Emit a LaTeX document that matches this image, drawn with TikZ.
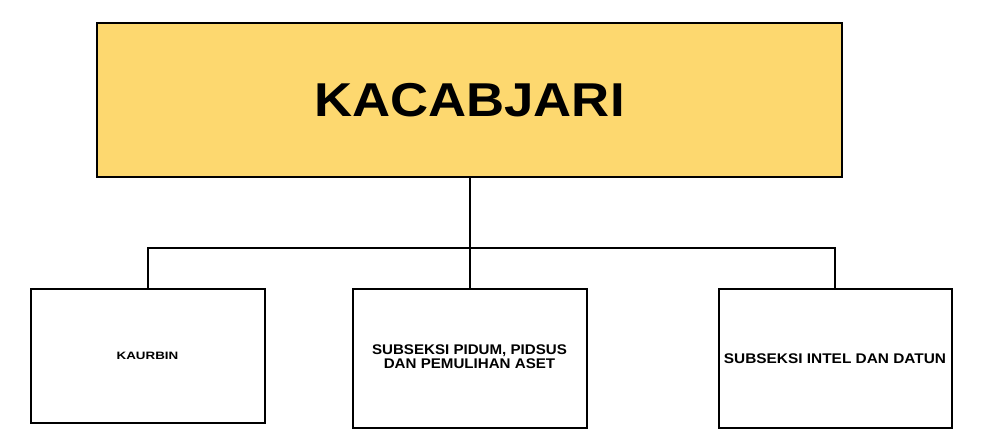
\documentclass[tikz,border=0pt]{standalone}
\usepackage{fontspec}
\setmainfont{Liberation Sans}
\usetikzlibrary{positioning}
\definecolor{headfill}{HTML}{FDD86F}
\tikzset{headbox/.style={rectangle,draw,line width=2pt,fill=headfill,inner sep=0pt,minimum width=745pt,minimum height=154pt},
	 unitbox/.style={rectangle,draw,line width=2pt,fill=white,inner sep=0pt,minimum width=234pt,minimum height=139pt},
	 link/.style={line width=2pt},
	 node distance = 110pt
	 }

\begin{document}
\begin{tikzpicture}[x=1pt,y=-1pt] % struktur cabang kejaksaan
	\useasboundingbox (0,0) rectangle (992,438);
	\node[headbox] (kc) at (469.5,100) {\fontsize{47.5}{50}\selectfont\bfseries\scalebox{1.11}[1]{KACABJARI}};
	\node[unitbox] (sp) [below= of kc] {\fontsize{14}{14.4}\selectfont\bfseries\scalebox{1.08}[1]{\begin{tabular}{@{}c@{}}SUBSEKSI PIDUM, PIDSUS\\DAN PEMULIHAN ASET\end{tabular}}};
	\node[unitbox,minimum height=134pt] (kb) [left=86pt of sp.north west,anchor=north east] {\fontsize{10.7}{12}\selectfont\bfseries\scalebox{1.25}[1]{KAURBIN}};
	\node[unitbox,minimum width=233pt] (si) [right=130pt of sp.north east,anchor=north west] {\fontsize{14}{14.4}\selectfont\bfseries\scalebox{1.1}[1]{SUBSEKSI INTEL DAN DATUN}};
	\coordinate (bus) at ([yshift=-70pt]kc.south);
	\draw[link] (kc) to (sp);
	\draw[link] (kb.north) |- (bus) -| (si.north);
\end{tikzpicture}
\end{document}
